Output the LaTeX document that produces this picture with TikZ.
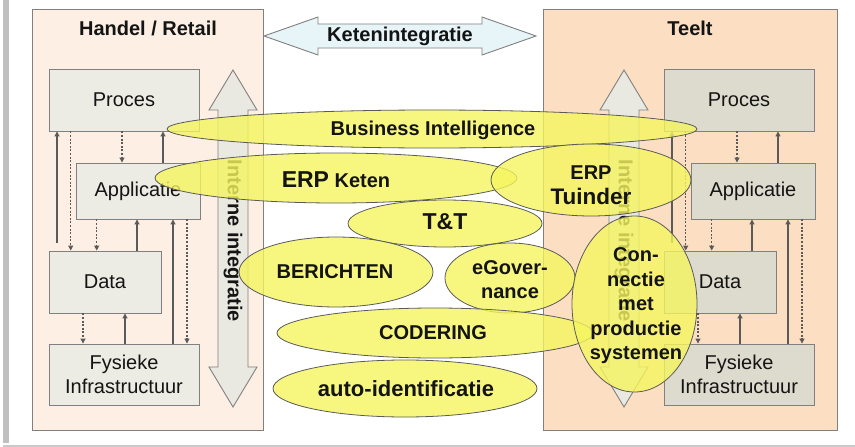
\documentclass[tikz,border=0pt]{standalone}
\usepackage{fontspec}
\setmainfont{Liberation Sans}
\usetikzlibrary{arrows.meta,shapes.geometric}
\definecolor{cPanelL}{RGB}{253,239,227}
\definecolor{cPanelR}{RGB}{252,223,195}
\definecolor{cBoxL}{RGB}{236,236,228}
\definecolor{cBoxR}{RGB}{221,219,205}
\definecolor{cArrow}{RGB}{233,233,226}
\definecolor{cKeten}{RGB}{231,244,248}
\definecolor{cEdge}{RGB}{128,128,128}
\definecolor{cLine}{RGB}{90,90,90}
\definecolor{cYellow}{RGB}{245,245,95}
\definecolor{cText}{RGB}{20,20,20}
\definecolor{cFrame}{RGB}{192,192,192}
\begin{document}
\begin{tikzpicture}[x=1pt,y=-1pt,
  panel/.style={draw=cEdge,line width=0.9pt},
  box/.style={draw=cEdge,line width=0.9pt,inner sep=0pt,align=center,text=cText,font=\fontsize{20}{24.5}\selectfont},
  upc/.style={draw=cLine,line width=1.1pt,-{Triangle[length=5pt,width=5pt]}},
  downc/.style={draw=cLine,line width=1.1pt,dash pattern=on 2pt off 1.6pt,-{Triangle[length=5pt,width=5pt]}},
  bigarrow/.style={draw=cEdge,line width=0.9pt,line join=miter},
  blob/.style={ellipse,draw=cLine,line width=0.8pt,fill=cYellow,fill opacity=0.8,inner sep=0pt},
  lbl/.style={font=\bfseries\fontsize{20}{24.5}\selectfont,text=cText,align=center,inner sep=0pt},
]
\useasboundingbox (0,0) rectangle (855,447);
% outer frame
\fill[cFrame] (3,0) rectangle (9,443);
\fill[cFrame!85] (3,444.5) rectangle (855,447);

% panels
\draw[panel,fill=cPanelL] (32,9) rectangle (263,430);
\draw[panel,fill=cPanelR] (543,9) rectangle (837,430);
\node[lbl] (titleL) at (148,28) {Handel / Retail};
\node[lbl] (titleR) at (690,28) {Teelt};

% Ketenintegratie arrow
\draw[bigarrow,fill=cKeten] (264,36) -- (318,17) -- (318,24) -- (482,24) -- (482,17) -- (536,36)
  -- (482,55) -- (482,48) -- (318,48) -- (318,55) -- cycle;
\node[lbl] (keten) at (400,36) {Ketenintegratie};

% interne integratie arrows
\foreach \cx/\s in {233/L,624/R}{
  \draw[bigarrow,fill=cArrow] (\cx,70) -- (\cx+24,110) -- (\cx+15,110) -- (\cx+15,367) -- (\cx+24,367)
    -- (\cx,407) -- (\cx-24,367) -- (\cx-15,367) -- (\cx-15,110) -- (\cx-24,110) -- cycle;
  \node[lbl,rotate=-90] (intern\s) at (\cx,241) {Interne integratie};
}

% boxes
\foreach \s/\o in {L/0,R/615}{
  \node[box,fill=cBox\s,minimum width=150pt,minimum height=62pt] (proc\s) at (\o+124,100) {Proces};
  \node[box,fill=cBox\s,minimum width=124pt,minimum height=56pt] (app\s) at (\o+138,191) {Applicatie};
  \node[box,fill=cBox\s,minimum width=112pt,minimum height=62pt] (data\s) at (\o+105,282) {Data};
  \node[box,fill=cBox\s,minimum width=150pt,minimum height=61pt] (fys\s) at (\o+124,374.5) {Fysieke\\Infrastructuur};
  \coordinate (xa\s) at (\o+57,0);
  \coordinate (xb\s) at (\o+70.7,0);
  \coordinate (xc\s) at (\o+122,0);
  \coordinate (xd\s) at (\o+163,0);
  \coordinate (xe\s) at (\o+96.7,0);
  \coordinate (xf\s) at (\o+137,0);
  \coordinate (xg\s) at (\o+173,0);
  \coordinate (xh\s) at (\o+187,0);
  \coordinate (xi\s) at (\o+83,0);
  \coordinate (xj\s) at (\o+125,0);
  \coordinate (sa\s) at (\o+57,243);
}
\foreach \s in {L,R}{
  \draw[upc] (sa\s) -- (xa\s |- proc\s.south);
  \draw[upc] (xd\s |- app\s.north) -- (xd\s |- proc\s.south);
  \draw[upc] (xf\s |- data\s.north) -- (xf\s |- app\s.south);
  \draw[upc] (xg\s |- fys\s.north) -- (xg\s |- app\s.south);
  \draw[upc] (xj\s |- fys\s.north) -- (xj\s |- data\s.south);
  \draw[downc] (xb\s |- proc\s.south) -- (xb\s |- data\s.north);
  \draw[downc] (xc\s |- proc\s.south) -- (xc\s |- app\s.north);
  \draw[downc] (xe\s |- app\s.south) -- (xe\s |- data\s.north);
  \draw[downc] (xh\s |- app\s.south) -- (xh\s |- fys\s.north);
  \draw[downc] (xi\s |- data\s.south) -- (xi\s |- fys\s.north);
}

% yellow topics
\node[blob,minimum width=530pt,minimum height=38pt] (bi) at (432,129) {};
\node[lbl] (biT) at (433,130) {Business Intelligence};
\node[blob,minimum width=362pt,minimum height=50pt] (erpk) at (336,178) {};
\node[lbl] (erpkT) at (336,180) {{\fontsize{23}{23}\selectfont ERP} Keten};
\node[blob,minimum width=200pt,minimum height=72pt] (erpt) at (591,180) {};
\node[lbl,font=\bfseries\fontsize{20}{25}\selectfont] (erptT) at (591,185) {ERP\\{\fontsize{22.5}{25}\selectfont Tuinder}};
\node[blob,minimum width=194pt,minimum height=47pt] (tt) at (445,223.5) {};
\node[lbl,font=\bfseries\fontsize{23}{23}\selectfont] (ttT) at (445,222) {T\&T};
\node[blob,minimum width=194pt,minimum height=70pt] (ber) at (336,272) {};
\node[lbl] (berT) at (335,272) {BERICHTEN};
\node[blob,minimum width=130pt,minimum height=70pt] (egov) at (510,278) {};
\node[lbl,font=\bfseries\fontsize{20}{24}\selectfont] (egovT) at (510,280) {eGover-\\nance};
\node[blob,minimum width=316pt,minimum height=50pt] (cod) at (435,333) {};
\node[lbl] (codT) at (433,333) {CODERING};
\node[blob,minimum width=264pt,minimum height=57pt] (auto) at (405,388.5) {};
\node[lbl,font=\bfseries\fontsize{22}{22}\selectfont] (autoT) at (406,389) {auto-identificatie};
\node[blob,minimum width=125pt,minimum height=176pt] (con) at (634.5,304) {};
\node[lbl] (conT) at (636,306) {Con-\\nectie\\met\\productie\\systemen};
\end{tikzpicture}
\end{document}
